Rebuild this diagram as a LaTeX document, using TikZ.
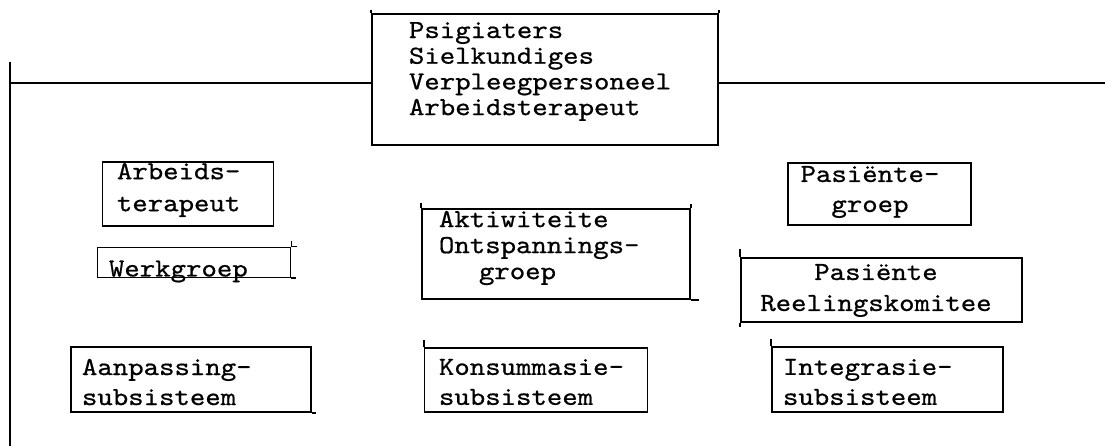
\documentclass[tikz,border=0pt]{standalone}
\usepackage{fontspec}
\newfontfamily\tw{lmmono10-regular.otf}[FakeStretch=1.13,FakeBold=0.7]
\begin{document}
\begin{tikzpicture}[x=1pt,y=-1pt,line width=1.9pt,
  box/.style={draw,rectangle,inner sep=0pt,line width=1.9pt},
  txt/.style={font=\tw\fontsize{26}{30}\selectfont,inner sep=0pt,align=left,anchor=west},
  txtc/.style={font=\tw\fontsize{26}{30}\selectfont,inner sep=0pt,align=center}]
\useasboundingbox (0,0) rectangle (1105,446);
% boxes
\node[box,minimum width=346pt,minimum height=131pt] (top) at (545,79.5) {};
\node[box,minimum width=171pt,minimum height=64pt] (arb) at (188,194) {};
\node[box,minimum width=193pt,minimum height=30pt] (werk) at (194,262.5) {};
\node[box,minimum width=240pt,minimum height=65pt] (aanp) at (191,379.5) {};
\node[box,minimum width=268pt,minimum height=90pt] (akt) at (556,254) {};
\node[box,minimum width=223pt,minimum height=64pt] (kons) at (536,380) {};
\node[box,minimum width=183pt,minimum height=62pt] (pg) at (879.5,194) {};
\node[box,minimum width=281pt,minimum height=64pt] (prk) at (881.5,290) {};
\node[box,minimum width=231pt,minimum height=65pt] (integ) at (887.5,379.5) {};
% texts
\node[txt,font=\tw\fontsize{26}{25.7}\selectfont] (topT) at (408,71.5) {Psigiaters\\Sielkundiges\\Verpleegpersoneel\\Arbeidsterapeut};
\node[txt,font=\tw\fontsize{26}{32}\selectfont] (arbT) at (116,190) {Arbeids-\\terapeut};
\node[txt] (werkT) at (108,271.5) {Werkgroep};
\node[txt] (aanpT) at (81,382) {Aanpassing-\\subsisteem};
\node[txt,font=\tw\fontsize{26}{26}\selectfont] (aktT) at (438,248) {Aktiwiteite\\Ontspannings-\\\hspace*{40pt}groep};
\node[txt] (konsT) at (438,382) {Konsummasie-\\subsisteem};
\node[txtc] (pgT) at (870,192) {Pasiënte-\\groep};
\node[txtc,font=\tw\fontsize{26}{31}\selectfont] (prkT) at (876,290.5) {Pasiënte\\Reelingskomitee};
\node[txt] (integT) at (782,382) {Integrasie-\\subsisteem};
% connectors
\coordinate (lt) at (10,62);
\coordinate (lb) at (10,446);
\coordinate (lj) at (10,83);
\coordinate (re) at (1105,83);
\draw (lt) -- (lb);
\draw (lj) -- (lj -| top.west);
\draw (top.east |- re) -- (re);
% typed overshoots
\draw (top.north west) -- ++(0,-3);
\draw (top.north east) -- ++(0,-3);
\draw (werk.north east) -- ++(0,-6);
\draw (werk.north east) -- ++(6,0);
\draw (werk.south east) -- ++(5,0);
\draw (prk.north west) -- ++(0,-8);
\draw (prk.south west) -- ++(0,4);
\draw (integ.north west) -- ++(0,-7);
\draw (kons.north west) -- ++(0,-7);
\draw (akt.north west) -- ++(0,-5);
\draw (akt.north east) -- ++(0,-4);
\draw (akt.south east) -- ++(8,0);
\draw (aanp.south east) -- ++(4,0);
\end{tikzpicture}
\end{document}
